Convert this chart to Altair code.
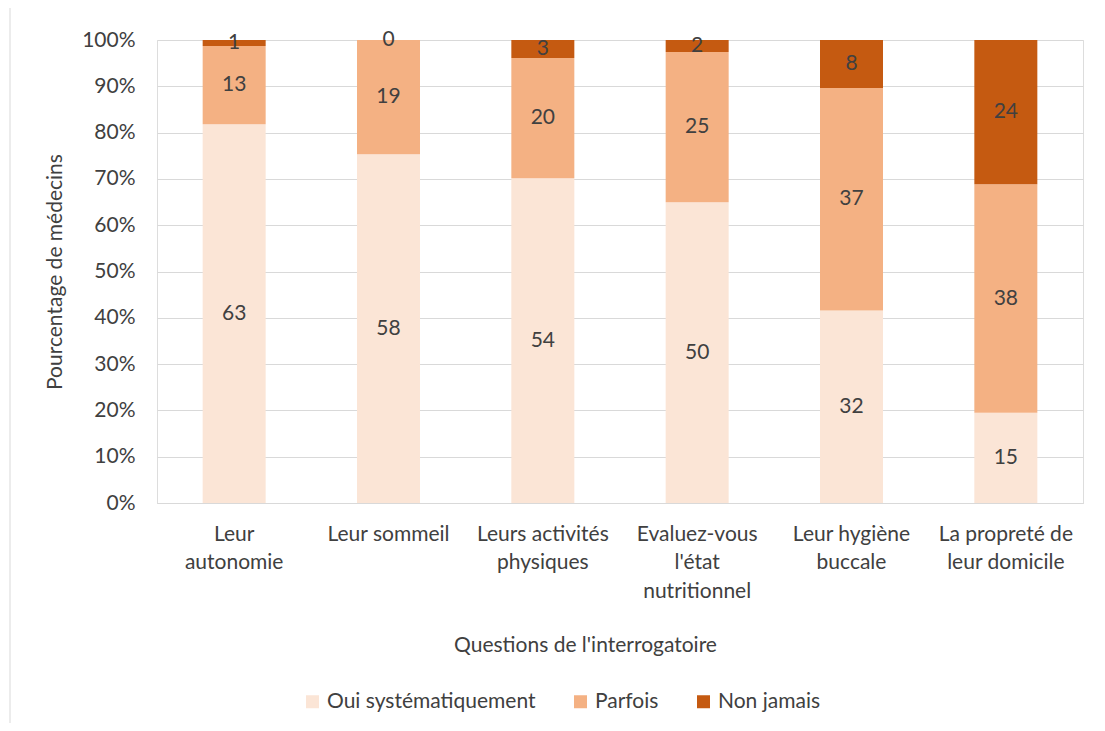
import altair as alt
import pandas as pd

categories = ["Leur autonomie", "Leur sommeil", "Leurs activités physiques",
              "Evaluez-vous l'état nutritionnel", "Leur hygiène buccale",
              "La propreté de leur domicile"]
label_lines = {
    "Leur autonomie": ["Leur", "autonomie"],
    "Leur sommeil": ["Leur sommeil"],
    "Leurs activités physiques": ["Leurs activités", "physiques"],
    "Evaluez-vous l'état nutritionnel": ["Evaluez-vous", "l'état", "nutritionnel"],
    "Leur hygiène buccale": ["Leur hygiène", "buccale"],
    "La propreté de leur domicile": ["La propreté de", "leur domicile"],
}
series = ["Oui systématiquement", "Parfois", "Non jamais"]
oui = [63, 58, 54, 50, 32, 15]
parfois = [13, 19, 20, 25, 37, 38]
non = [1, 0, 3, 2, 8, 24]
colors = ["#FBE5D6", "#F4B183", "#C55A11"]

rows = []
for i, c in enumerate(categories):
    for j, (s, vals) in enumerate(zip(series, [oui, parfois, non])):
        rows.append({"cat": c, "serie": s, "order": j, "n": vals[i]})
df = pd.DataFrame(rows)

label_expr = "{" + ",".join(
    "'" + k.replace("'", "\\'") + "':[" + ",".join("'" + l.replace("'", "\\'") + "'" for l in v) + "]"
    for k, v in label_lines.items()) + "}[datum.value]"

FONT = "Lato"
FS = 21
TXT = "#404040"

base = alt.Chart(df).transform_joinaggregate(
    total="sum(n)", groupby=["cat"]
).transform_calculate(
    pct="datum.n / datum.total"
).transform_stack(
    stack="pct", groupby=["cat"], as_=["y0", "y1"], sort=[alt.SortField("order", "ascending")]
).transform_calculate(
    ymid="(datum.y0 + datum.y1) / 2"
)

x_enc = alt.X("cat:N", sort=categories, title="Questions de l'interrogatoire",
              axis=alt.Axis(labelExpr=label_expr, labelAngle=0, labelFontSize=FS,
                            labelLineHeight=28.5, labelColor=TXT, labelFont=FONT,
                            labelPadding=20, ticks=False, domainColor="#D9D9D9",
                            labelBaseline="top", labelLimit=0,
                            titleFontSize=FS, titleColor=TXT, titleFont=FONT,
                            titleFontWeight="normal", titlePadding=33, titleX=428))

bars = base.mark_bar(size=63).encode(
    x=x_enc,
    y=alt.Y("y0:Q", scale=alt.Scale(domain=[0, 1]), title="Pourcentage de médecins",
            axis=alt.Axis(format="%", values=[i / 10 for i in range(11)], labelFontSize=FS,
                          labelColor=TXT, labelFont=FONT, ticks=False, domain=False,
                          gridColor="#D9D9D9", labelPadding=22,
                          titleFontSize=FS, titleColor=TXT, titleFont=FONT,
                          titleFontWeight="normal", titlePadding=16)),
    y2="y1:Q",
    color=alt.Color("serie:N", sort=series, scale=alt.Scale(domain=series, range=colors),
                    legend=alt.Legend(title=None, orient="none", direction="horizontal",
                                      legendX=145, legendY=651, symbolType="square",
                                      symbolSize=169, labelFontSize=FS, labelColor=TXT,
                                      labelFont=FONT, labelLimit=0, labelOffset=4,
                                      columnPadding=34, symbolStrokeWidth=0)),
)

texts = base.mark_text(fontSize=FS, font=FONT, color=TXT).encode(
    x=alt.X("cat:N", sort=categories),
    y="ymid:Q",
    text="n:Q",
)

border = alt.Chart(pd.DataFrame({"a": [0]})).mark_rule(color="#D9D9D9").encode(
    x=alt.value(-147), y=alt.value(-40), y2=alt.value(700)
)

chart = alt.layer(bars, texts, border).properties(
    width=926, height=463,
    autosize=alt.AutoSizeParams(type="none"),
    padding={"left": 149, "top": 32, "right": 14, "bottom": 220},
).configure_view(stroke=None).configure(font=FONT)

chart.save("out.html", embed_options={"renderer": "svg", "actions": False})
